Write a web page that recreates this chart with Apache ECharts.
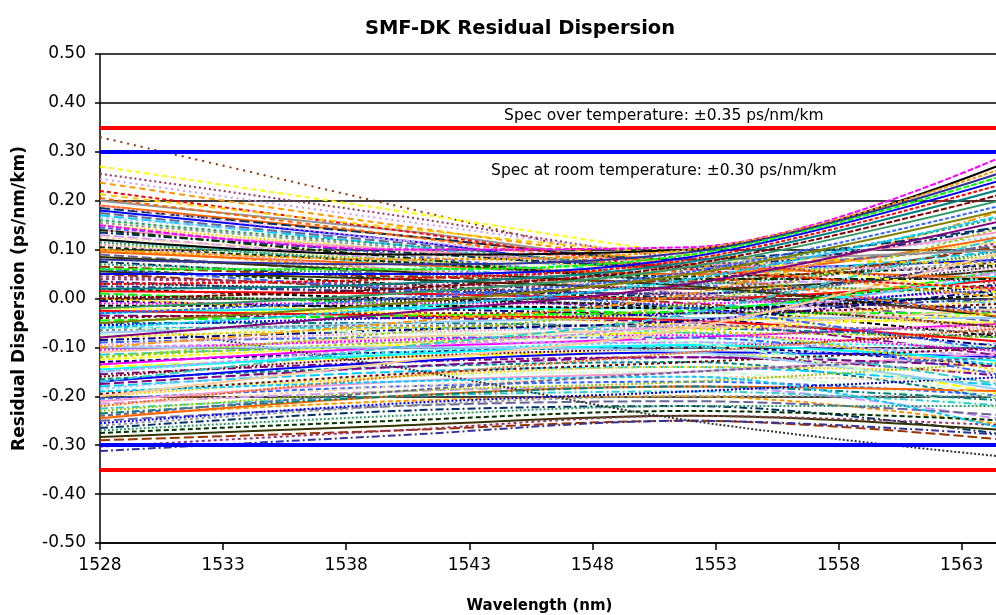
<!DOCTYPE html>
<html>
<head>
<meta charset="utf-8">
<title>SMF-DK Residual Dispersion</title>
<script src="https://cdn.jsdelivr.net/npm/echarts@6/dist/echarts.min.js"></script>
<style>
  html, body { margin: 0; padding: 0; background: #fff; }
  #main { width: 996px; height: 615px; }
</style>
</head>
<body>
<div id="main"></div>
<script>
// wavelengths (nm) where each fiber trace is sampled
var wavelengths = [1528, 1540, 1552, 1565];
var xTicks = [1528, 1533, 1538, 1543, 1548, 1553, 1558, 1563];

var specOver = 0.35;   // over temperature
var specRoom = 0.30;   // at room temperature
var specOverText = 'Spec over temperature: \u00b10.35 ps/nm/km';
var specRoomText = 'Spec at room temperature: \u00b10.30 ps/nm/km';

// residual dispersion (ps/nm/km) at the wavelengths above, one row per fiber
// sparse dotted traces falling from the upper left
var upperFibers = [
  [0.33, 0.19, 0.05, -0.08],
  [0.27, 0.18, 0.09, 0.01],
  [0.255, 0.17, 0.08, 0.03],
  [0.245, 0.16, 0.085, 0.05],
  [0.237, 0.15, 0.07, 0.0],
  [0.22, 0.14, 0.06, 0.02],
  [0.213, 0.145, 0.09, 0.07],
  [0.205, 0.13, 0.05, -0.04],
  [0.19, 0.12, 0.07, 0.06]
];

// traces climbing to the upper right
var risingFibers = [
  [0.15, 0.1, 0.105, 0.298],
  [0.12, 0.09, 0.1, 0.282],
  [0.1, 0.08, 0.1, 0.272],
  [0.08, 0.07, 0.095, 0.264],
  [0.06, 0.06, 0.09, 0.256],
  [0.05, 0.05, 0.085, 0.248],
  [0.03, 0.04, 0.08, 0.239],
  [0.02, 0.03, 0.075, 0.229],
  [0.0, 0.02, 0.07, 0.218],
  [-0.02, 0.01, 0.065, 0.206],
  [-0.03, 0.0, 0.055, 0.195],
  [-0.05, -0.01, 0.05, 0.185],
  [-0.06, -0.02, 0.04, 0.174],
  [-0.08, -0.03, 0.03, 0.163]
];

// the dense middle of the bundle
var middleFibers = [
  [0.18, 0.12, 0.06, 0.08],
  [0.17, 0.11, 0.05, 0.1],
  [0.165, 0.12, 0.08, 0.13],
  [0.16, 0.1, 0.04, 0.0],
  [0.15, 0.1, 0.06, 0.12],
  [0.145, 0.09, 0.03, -0.03],
  [0.14, 0.1, 0.07, 0.14],
  [0.13, 0.08, 0.03, 0.05],
  [0.125, 0.09, 0.06, 0.11],
  [0.12, 0.07, 0.02, -0.01],
  [0.11, 0.08, 0.05, 0.09],
  [0.1, 0.06, 0.02, 0.02],
  [0.095, 0.07, 0.05, 0.13],
  [0.09, 0.05, 0.01, -0.05],
  [0.08, 0.06, 0.04, 0.08],
  [0.075, 0.04, 0.0, -0.02],
  [0.07, 0.05, 0.03, 0.1],
  [0.06, 0.03, 0.0, 0.03],
  [0.055, 0.04, 0.02, 0.06],
  [0.05, 0.02, -0.01, -0.06],
  [0.04, 0.03, 0.02, 0.12],
  [0.035, 0.01, -0.02, 0.0],
  [0.03, 0.02, 0.01, 0.07],
  [0.02, 0.0, -0.02, -0.08],
  [0.015, 0.01, 0.0, 0.04],
  [0.01, -0.01, -0.03, -0.03],
  [0.0, 0.0, 0.0, 0.09],
  [-0.005, -0.02, -0.04, -0.1],
  [-0.01, -0.01, -0.01, 0.02],
  [-0.02, -0.03, -0.04, -0.05],
  [-0.03, -0.02, -0.02, 0.05],
  [-0.035, -0.04, -0.05, -0.12],
  [-0.04, -0.03, -0.03, -0.01],
  [-0.05, -0.05, -0.06, -0.08],
  [-0.055, -0.04, -0.03, 0.03],
  [-0.06, -0.06, -0.07, -0.14],
  [-0.07, -0.05, -0.04, -0.04],
  [-0.075, -0.07, -0.08, -0.1],
  [-0.08, -0.06, -0.05, 0.0],
  [-0.09, -0.08, -0.08, -0.16],
  [-0.095, -0.07, -0.06, -0.06],
  [-0.1, -0.09, -0.09, -0.12],
  [-0.11, -0.08, -0.06, -0.02],
  [-0.115, -0.1, -0.1, -0.18],
  [-0.12, -0.09, -0.07, -0.08]
];

// more traces filling the middle
var fillFibers = [
  [0.19, 0.13, 0.07, 0.04],
  [0.175, 0.115, 0.065, 0.11],
  [0.155, 0.105, 0.055, 0.02],
  [0.135, 0.095, 0.065, 0.15],
  [0.115, 0.075, 0.035, 0.01],
  [0.105, 0.075, 0.045, 0.07],
  [0.085, 0.055, 0.025, -0.04],
  [0.065, 0.045, 0.035, 0.11],
  [0.045, 0.025, 0.005, -0.03],
  [0.025, 0.015, 0.01, 0.08],
  [0.005, -0.005, -0.015, -0.06],
  [-0.015, -0.015, -0.02, 0.01],
  [-0.025, -0.035, -0.045, -0.09],
  [-0.045, -0.035, -0.025, 0.06],
  [-0.065, -0.055, -0.055, -0.07],
  [-0.085, -0.065, -0.045, 0.02],
  [-0.105, -0.085, -0.075, -0.11],
  [-0.125, -0.095, -0.065, -0.03],
  [-0.145, -0.115, -0.095, -0.13],
  [-0.175, -0.14, -0.12, -0.14],
  [-0.195, -0.155, -0.13, -0.1],
  [-0.235, -0.2, -0.18, -0.21],
  [-0.255, -0.215, -0.19, -0.16],
  [-0.19, -0.17, -0.16, -0.27],
  [-0.1, -0.1, -0.11, -0.19],
  [-0.06, -0.07, -0.09, -0.21],
  [0.0, -0.03, -0.06, -0.15],
  [0.06, 0.02, -0.02, -0.11],
  [0.11, 0.06, 0.01, -0.07],
  [-0.15, -0.1, -0.05, 0.06],
  [-0.2, -0.13, -0.06, 0.1],
  [-0.17, -0.1, -0.03, 0.13],
  [-0.12, -0.07, -0.01, 0.15],
  [-0.1, -0.05, 0.01, 0.185],
  [-0.22, -0.16, -0.11, -0.06],
  [-0.24, -0.19, -0.15, -0.12],
  [0.2, 0.14, 0.08, 0.1],
  [0.185, 0.13, 0.08, 0.15],
  [0.16, 0.11, 0.07, 0.17],
  [0.14, 0.085, 0.04, 0.04]
];

// lower part, mostly rising towards the middle
var lowerFibers = [
  [-0.13, -0.11, -0.1, -0.14],
  [-0.135, -0.1, -0.08, -0.05],
  [-0.14, -0.12, -0.11, -0.2],
  [-0.15, -0.11, -0.09, -0.1],
  [-0.155, -0.13, -0.12, -0.16],
  [-0.16, -0.12, -0.1, -0.07],
  [-0.165, -0.14, -0.13, -0.21],
  [-0.17, -0.13, -0.11, -0.12],
  [-0.18, -0.15, -0.14, -0.18],
  [-0.185, -0.14, -0.12, -0.09],
  [-0.19, -0.16, -0.15, -0.23],
  [-0.2, -0.16, -0.14, -0.15],
  [-0.205, -0.18, -0.17, -0.2],
  [-0.21, -0.17, -0.15, -0.11],
  [-0.215, -0.19, -0.18, -0.25],
  [-0.22, -0.18, -0.16, -0.17],
  [-0.225, -0.2, -0.19, -0.22],
  [-0.23, -0.19, -0.17, -0.13],
  [-0.24, -0.21, -0.2, -0.26],
  [-0.245, -0.2, -0.18, -0.19],
  [-0.25, -0.22, -0.21, -0.24],
  [-0.26, -0.22, -0.2, -0.2],
  [-0.265, -0.23, -0.22, -0.28],
  [-0.27, -0.24, -0.22, -0.22],
  [-0.275, -0.25, -0.23, -0.25],
  [-0.283, -0.26, -0.24, -0.27],
  [-0.29, -0.27, -0.25, -0.29],
  [-0.303, -0.27, -0.24, -0.26],
  [-0.312, -0.28, -0.25, -0.28],
  [-0.05, -0.14, -0.25, -0.325]
];

var upperColors = ['#993300', '#FFFF00', '#993366', '#CC99FF', '#FF9900', '#FF0000', '#FFCC00', '#FF6600', '#FF99CC'];
var risingColors = ['#FF00FF', '#000000', '#FF9900', '#333399', '#00FF00', '#0000FF', '#FF0000', '#008080',
  '#800000', '#339966', '#3366FF', '#808000', '#00CCFF', '#800080'];
var palette = ['#000080', '#FF00FF', '#FFFF00', '#00FFFF', '#800080', '#800000', '#008080', '#0000FF',
  '#00CCFF', '#99CCFF', '#CCFFCC', '#FFCC00', '#3366FF', '#FF99CC', '#CC99FF', '#FFCC99', '#33CCCC',
  '#99CC00', '#FF9900', '#FF6600', '#666699', '#969696', '#003366', '#339966', '#003300', '#333300',
  '#993300', '#993366', '#333399', '#333333', '#000000', '#FF0000', '#00FF00', '#808080'];
var dashes = ['solid', [5, 3], [2, 2], [8, 3, 2, 3], [3, 3], [10, 4]];
var dotted = [[2, 5], [5, 4], [2, 3], [2, 4], [6, 4], [4, 3], [6, 5], [5, 4], [2, 3]];

function traceSeries(rows, colors, types, offset) {
  return rows.map(function (row, i) {
    var k = offset + i;
    return {
      type: 'line',
      data: wavelengths.map(function (w, j) { return [w, row[j]]; }),
      symbol: 'none',
      showSymbol: false,
      smooth: 0.35,
      silent: true,
      lineStyle: {
        width: 2,
        color: colors[k % colors.length],
        type: types[(k * 5 + 1) % types.length],
        cap: 'butt'
      }
    };
  });
}

var series = []
  .concat(traceSeries(lowerFibers, palette, dashes, 0))
  .concat(traceSeries(middleFibers, palette, dashes, 7))
  .concat(traceSeries(fillFibers, palette, dashes, 19))
  .concat(traceSeries(upperFibers, upperColors, dotted, 0).map(function (s, i) {
    s.lineStyle.type = dotted[i];
    return s;
  }))
  .concat(traceSeries(risingFibers, risingColors, ['solid', [6, 2], 'solid', [4, 2]], 0));

var specLabel = { show: true, position: 'inside', color: '#000', fontSize: 15.5, fontFamily: 'DejaVu Sans' };
series.push({
  type: 'line',
  data: [],
  silent: true,
  markLine: {
    symbol: 'none',
    silent: true,
    label: { show: false },
    data: [
      { yAxis: specOver, lineStyle: { color: '#FF0000', width: 4, type: 'solid' } },
      { yAxis: -specOver, lineStyle: { color: '#FF0000', width: 4, type: 'solid' } },
      { yAxis: specRoom, lineStyle: { color: '#0000FF', width: 4, type: 'solid' } },
      { yAxis: -specRoom, lineStyle: { color: '#0000FF', width: 4, type: 'solid' } }
    ]
  },
  markPoint: {
    symbol: 'circle',
    symbolSize: 1,
    itemStyle: { color: 'rgba(0,0,0,0)' },
    data: [
      { coord: [1550.9, 0.373], label: Object.assign({ formatter: specOverText }, specLabel) },
      { coord: [1550.9, 0.26], label: Object.assign({ formatter: specRoomText }, specLabel) }
    ]
  }
});

var chartDom = document.getElementById('main');
var myChart = echarts.init(chartDom);
var option = {
  animation: false,
  backgroundColor: '#fff',
  title: {
    text: 'SMF-DK Residual Dispersion',
    left: 515,
    textAlign: 'center',
    top: 14,
    textStyle: { fontFamily: 'DejaVu Sans', fontWeight: 'bold', fontSize: 19.5, color: '#000' }
  },
  grid: { left: 100, right: -15, top: 54, bottom: 72, outerBoundsMode: 'none' },
  xAxis: {
    type: 'value',
    min: 1528,
    max: 1565,
    name: 'Wavelength (nm)',
    nameLocation: 'middle',
    nameGap: 56,
    nameTextStyle: { fontFamily: 'DejaVu Sans', fontWeight: 'bold', fontSize: 15, color: '#000', padding: [0, 32, 0, 0] },
    axisLine: { onZero: false, lineStyle: { color: '#000', width: 1.5 } },
    axisTick: { show: true, length: 7, customValues: xTicks, lineStyle: { color: '#000', width: 1.5 } },
    axisLabel: {
      customValues: xTicks, color: '#000', fontSize: 17, fontFamily: 'DejaVu Sans', margin: 14,
      formatter: function (v) { return String(v); }
    },
    splitLine: { show: false }
  },
  yAxis: {
    type: 'value',
    min: -0.5,
    max: 0.5,
    interval: 0.1,
    name: 'Residual Dispersion (ps/nm/km)',
    nameLocation: 'middle',
    nameGap: 72,
    nameTextStyle: { fontFamily: 'DejaVu Sans', fontWeight: 'bold', fontSize: 17, color: '#000' },
    axisLine: { show: true, lineStyle: { color: '#000', width: 1.5 } },
    axisTick: { show: true, length: 5, lineStyle: { color: '#000', width: 1.5 } },
    axisLabel: {
      color: '#000', fontSize: 17, fontFamily: 'DejaVu Sans', margin: 14,
      formatter: function (v) { return v.toFixed(2); }
    },
    splitLine: { show: true, lineStyle: { color: '#000', width: 1.5 } }
  },
  series: series
};

option && myChart.setOption(option);
</script>
</body>
</html>
